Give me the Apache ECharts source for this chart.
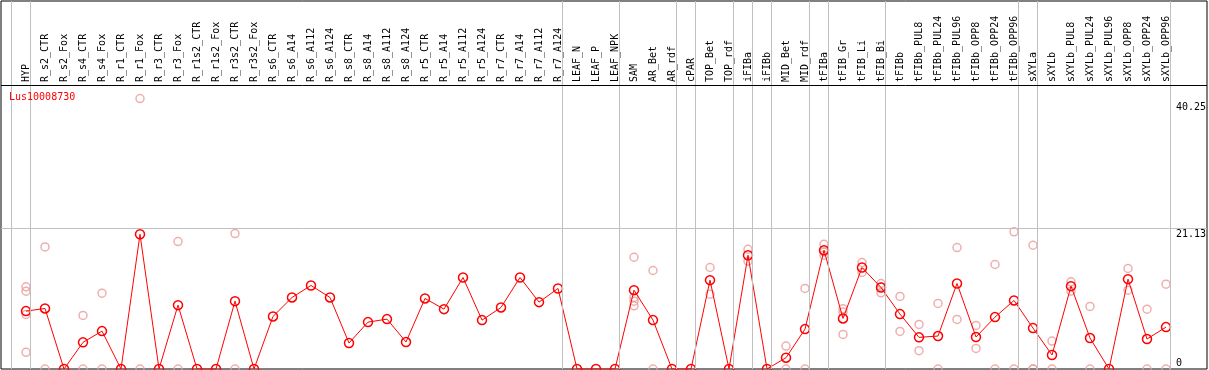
<!DOCTYPE html>
<html>
<head>
<meta charset="utf-8">
<script src="https://cdn.jsdelivr.net/npm/echarts@6/dist/echarts.min.js"></script>
<style>
  html, body { margin: 0; padding: 0; background: #fff; }
  #chart { width: 1209px; height: 370px; }
</style>
</head>
<body>
<div id="chart"></div>
<script>
const categories = [
  'HYP', 'R_s2_CTR', 'R_s2_Fox', 'R_s4_CTR', 'R_s4_Fox', 'R_r1_CTR', 'R_r1_Fox',
  'R_r3_CTR', 'R_r3_Fox', 'R_r1s2_CTR', 'R_r1s2_Fox', 'R_r3s2_CTR', 'R_r3s2_Fox',
  'R_s6_CTR', 'R_s6_A14', 'R_s6_A112', 'R_s6_A124', 'R_s8_CTR', 'R_s8_A14', 'R_s8_A112',
  'R_s8_A124', 'R_r5_CTR', 'R_r5_A14', 'R_r5_A112', 'R_r5_A124', 'R_r7_CTR', 'R_r7_A14',
  'R_r7_A112', 'R_r7_A124', 'LEAF_N', 'LEAF_P', 'LEAF_NPK', 'SAM', 'AR_Bet', 'AR_rdf',
  'cPAR', 'TOP_Bet', 'TOP_rdf', 'iFIBa', 'iFIBb', 'MID_Bet', 'MID_rdf', 'tFIBa',
  'tFIB_Gr', 'tFIB_Li', 'tFIB_Bi', 'tFIBb', 'tFIBb_PUL8', 'tFIBb_PUL24', 'tFIBb_PUL96',
  'tFIBb_OPP8', 'tFIBb_OPP24', 'tFIBb_OPP96', 'sXYLa', 'sXYLb', 'sXYLb_PUL8',
  'sXYLb_PUL24', 'sXYLb_PUL96', 'sXYLb_OPP8', 'sXYLb_OPP24', 'sXYLb_OPP96'
];

// mean expression per sample
const meanValues = [
  8.69, 9.09, 0, 4.0, 5.69, 0, 20.23, 0, 9.59, 0, 0, 10.19, 0,
  7.89, 10.74, 12.54, 10.74, 3.9, 7.04, 7.49, 4.05, 10.59, 8.99, 13.74, 7.34,
  9.24, 13.74, 10.04, 12.09, 0, 0, 0, 11.84, 7.34, 0, 0, 13.34, 0, 17.08, 0,
  1.70, 5.99, 17.83, 7.59, 15.24, 12.24, 8.24, 4.75, 4.95, 12.84, 4.80, 7.79,
  10.29, 6.14, 2.10, 12.44, 4.65, 0, 13.49, 4.50, 6.29
];

// individual replicates per sample (faint circles)
const replicates = [
  [12.34, 11.69, 8.2, 2.5], [18.33, 0], [], [8.04, 0], [11.39, 0], [], [40.61, 0],
  [], [19.14, 0], [], [], [20.33, 0], [],
  [], [], [], [], [], [], [], [], [], [], [], [], [], [], [], [],
  [], [], [], [16.78, 10.74, 10.19, 9.49], [14.79, 0], [], [], [15.24, 11.24], [],
  [17.98, 16.18], [], [3.45, 0], [12.09, 0], [18.73, 17.58, 17.08], [9.04, 8.54, 5.19],
  [15.99, 14.49], [12.84, 12.34, 11.44], [10.89, 5.64], [6.69, 2.75], [9.84, 0],
  [18.23, 7.44], [6.54, 3.09], [15.69, 0], [20.6, 0], [18.58, 0, 0], [4.2, 0],
  [13.09, 11.69], [9.39, 0], [], [15.09, 11.84], [8.99, 0], [12.74, 0]
];

// group separators drawn after these sample indices
const groupEnds = [-1, 0, 28, 31, 34, 35, 37, 38, 39, 41, 42, 45, 52, 53, 60];
const yTicks = [0, 21.13, 40.25];
const geneName = 'Lus10008730';

const font = 'DejaVu Sans Mono';
const step = 19;          // px per sample
const firstX = 26;        // px of first sample
const plotLeft = 1, plotRight = 1207;
const pxPerUnit = 6.66;
const headerPx = 85, bottomPx = 369;

const xMin = (plotLeft - firstX) / step;
const xMax = (plotRight - firstX) / step;
const yMax = (bottomPx - 1) / pxPerUnit;
const headerValue = (bottomPx - headerPx) / pxPerUnit;

const meanData = meanValues.map((v, i) => [i, v]);
const repData = [];
replicates.forEach((list, i) => list.forEach(v => repData.push([i, v])));

const chart = echarts.init(document.getElementById('chart'));

const option = {
  animation: false,
  title: {
    text: geneName,
    left: 9, top: 92, padding: 0,
    textStyle: { color: '#ff0000', fontSize: 10, fontWeight: 'normal', fontFamily: font }
  },
  grid: [
    { left: plotLeft, right: 1209 - plotRight, top: 1, bottom: 370 - bottomPx,
      show: true, borderColor: '#000', borderWidth: 1 },
    { left: firstX - step / 2, right: 1209 - (firstX + step * (categories.length - 0.5)),
      top: headerPx, bottom: 370 - bottomPx }
  ],
  xAxis: [
    { type: 'value', gridIndex: 0, min: xMin, max: xMax, show: false },
    { type: 'category', gridIndex: 1, position: 'top', data: categories,
      boundaryGap: true,
      axisLine: { show: false }, axisTick: { show: false }, splitLine: { show: false },
      axisLabel: { interval: 0, rotate: 90, margin: 3, fontSize: 10,
        fontFamily: font, color: '#000' } }
  ],
  yAxis: [
    { type: 'value', gridIndex: 0, min: 0, max: yMax, show: false },
    { type: 'value', gridIndex: 1, show: false }
  ],
  series: [
    {
      type: 'line', xAxisIndex: 0, yAxisIndex: 0, data: [], z: 1, silent: true,
      markLine: {
        silent: true, symbol: 'none', animation: false,
        label: { show: false },
        lineStyle: { color: '#c0c0c0', width: 1, type: 'solid' },
        data: groupEnds.map(i => ({ xAxis: i + 4 / step }))
          .concat([{ yAxis: headerValue, lineStyle: { color: '#000' } }])
      }
    },
    {
      type: 'line', xAxisIndex: 0, yAxisIndex: 0, data: [], z: 1, silent: true,
      markLine: {
        silent: true, symbol: 'none', animation: false,
        data: yTicks.map(v => ({
          yAxis: v,
          lineStyle: { color: v === 21.13 ? '#c0c0c0' : 'rgba(0,0,0,0)', width: 1, type: 'solid' },
          label: {
            show: true, formatter: String(v).padEnd(5, ' '),
            position: v === 0 ? 'insideEndTop' : 'insideEndBottom',
            distance: [1, 1], color: '#000', fontSize: 10, fontFamily: font
          }
        }))
      }
    },
    {
      type: 'scatter', xAxisIndex: 0, yAxisIndex: 0, data: repData, z: 2,
      symbol: 'circle', symbolSize: 8,
      itemStyle: { color: 'rgba(0,0,0,0)', borderColor: '#eb9a9a', borderWidth: 1.5 }
    },
    {
      type: 'line', xAxisIndex: 0, yAxisIndex: 0, data: meanData, z: 3,
      symbol: 'circle', symbolSize: 9, showAllSymbol: true,
      lineStyle: { color: '#ff0000', width: 1 },
      itemStyle: { color: 'rgba(0,0,0,0)', borderColor: '#ff0000', borderWidth: 1.5 }
    }
  ]
};

chart.setOption(option);
</script>
</body>
</html>
